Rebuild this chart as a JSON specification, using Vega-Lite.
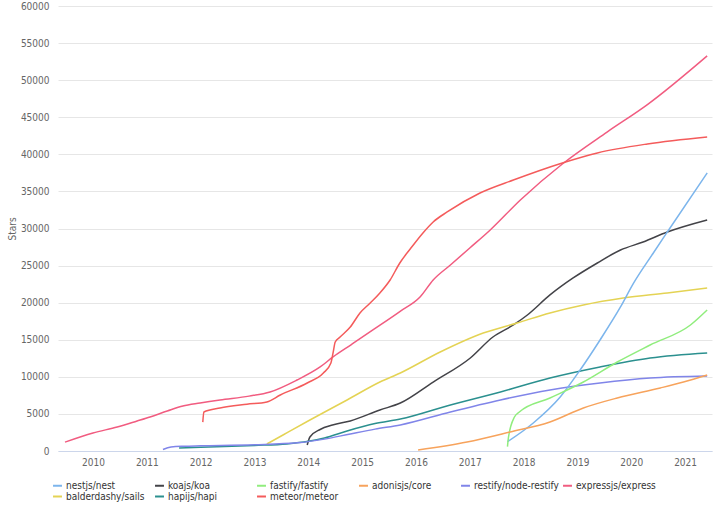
{
  "$schema": "https://vega.github.io/schema/vega-lite/v6.json",
  "width": 654,
  "height": 445,
  "autosize": "none",
  "padding": {"left": 58, "top": 6, "right": 8, "bottom": 65},
  "background": "white",
  "config": {
    "view": {"stroke": null},
    "font": "Liberation Sans Narrow, DejaVu Sans Condensed, Liberation Sans, sans-serif"
  },
  "datasets": {
    "stars": [
      {"repo": "expressjs/express", "t": 2009.48, "stars": 1200},
      {"repo": "expressjs/express", "t": 2010.0, "stars": 2430},
      {"repo": "expressjs/express", "t": 2010.45, "stars": 3240},
      {"repo": "expressjs/express", "t": 2010.82, "stars": 4050},
      {"repo": "expressjs/express", "t": 2011.06, "stars": 4590},
      {"repo": "expressjs/express", "t": 2011.38, "stars": 5390},
      {"repo": "expressjs/express", "t": 2011.67, "stars": 6070},
      {"repo": "expressjs/express", "t": 2011.99, "stars": 6470},
      {"repo": "expressjs/express", "t": 2012.36, "stars": 6880},
      {"repo": "expressjs/express", "t": 2012.9, "stars": 7400},
      {"repo": "expressjs/express", "t": 2013.29, "stars": 7960},
      {"repo": "expressjs/express", "t": 2013.79, "stars": 9570},
      {"repo": "expressjs/express", "t": 2014.22, "stars": 11330},
      {"repo": "expressjs/express", "t": 2014.46, "stars": 12680},
      {"repo": "expressjs/express", "t": 2014.8, "stars": 14350},
      {"repo": "expressjs/express", "t": 2015.2, "stars": 16320},
      {"repo": "expressjs/express", "t": 2015.7, "stars": 18800},
      {"repo": "expressjs/express", "t": 2016.08, "stars": 20800},
      {"repo": "expressjs/express", "t": 2016.32, "stars": 23060},
      {"repo": "expressjs/express", "t": 2016.64, "stars": 25080},
      {"repo": "expressjs/express", "t": 2017.0, "stars": 27370},
      {"repo": "expressjs/express", "t": 2017.38, "stars": 29800},
      {"repo": "expressjs/express", "t": 2017.94, "stars": 33850},
      {"repo": "expressjs/express", "t": 2018.72, "stars": 38700},
      {"repo": "expressjs/express", "t": 2019.55, "stars": 43000},
      {"repo": "expressjs/express", "t": 2020.3, "stars": 46700},
      {"repo": "expressjs/express", "t": 2021.41, "stars": 53270},

      {"repo": "meteor/meteor", "t": 2012.04, "stars": 3900},
      {"repo": "meteor/meteor", "t": 2012.06, "stars": 5260},
      {"repo": "meteor/meteor", "t": 2012.36, "stars": 5800},
      {"repo": "meteor/meteor", "t": 2012.86, "stars": 6300},
      {"repo": "meteor/meteor", "t": 2013.23, "stars": 6610},
      {"repo": "meteor/meteor", "t": 2013.48, "stars": 7550},
      {"repo": "meteor/meteor", "t": 2013.98, "stars": 9170},
      {"repo": "meteor/meteor", "t": 2014.28, "stars": 10520},
      {"repo": "meteor/meteor", "t": 2014.42, "stars": 11870},
      {"repo": "meteor/meteor", "t": 2014.46, "stars": 13220},
      {"repo": "meteor/meteor", "t": 2014.5, "stars": 14700},
      {"repo": "meteor/meteor", "t": 2014.59, "stars": 15370},
      {"repo": "meteor/meteor", "t": 2014.78, "stars": 16720},
      {"repo": "meteor/meteor", "t": 2014.96, "stars": 18610},
      {"repo": "meteor/meteor", "t": 2015.15, "stars": 19960},
      {"repo": "meteor/meteor", "t": 2015.33, "stars": 21310},
      {"repo": "meteor/meteor", "t": 2015.52, "stars": 23060},
      {"repo": "meteor/meteor", "t": 2015.7, "stars": 25350},
      {"repo": "meteor/meteor", "t": 2015.9, "stars": 27300},
      {"repo": "meteor/meteor", "t": 2016.13, "stars": 29400},
      {"repo": "meteor/meteor", "t": 2016.32, "stars": 30880},
      {"repo": "meteor/meteor", "t": 2016.58, "stars": 32230},
      {"repo": "meteor/meteor", "t": 2017.19, "stars": 34790},
      {"repo": "meteor/meteor", "t": 2017.81, "stars": 36540},
      {"repo": "meteor/meteor", "t": 2018.72, "stars": 38840},
      {"repo": "meteor/meteor", "t": 2019.37, "stars": 40190},
      {"repo": "meteor/meteor", "t": 2020.3, "stars": 41400},
      {"repo": "meteor/meteor", "t": 2021.41, "stars": 42340},

      {"repo": "koajs/koa", "t": 2013.98, "stars": 810},
      {"repo": "koajs/koa", "t": 2014.03, "stars": 1890},
      {"repo": "koajs/koa", "t": 2014.22, "stars": 2900},
      {"repo": "koajs/koa", "t": 2014.45, "stars": 3500},
      {"repo": "koajs/koa", "t": 2014.78, "stars": 4050},
      {"repo": "koajs/koa", "t": 2015.33, "stars": 5530},
      {"repo": "koajs/koa", "t": 2015.71, "stars": 6470},
      {"repo": "koajs/koa", "t": 2016.32, "stars": 9300},
      {"repo": "koajs/koa", "t": 2017.01, "stars": 12540},
      {"repo": "koajs/koa", "t": 2017.43, "stars": 15370},
      {"repo": "koajs/koa", "t": 2017.81, "stars": 16990},
      {"repo": "koajs/koa", "t": 2018.07, "stars": 18340},
      {"repo": "koajs/koa", "t": 2018.49, "stars": 21040},
      {"repo": "koajs/koa", "t": 2018.92, "stars": 23330},
      {"repo": "koajs/koa", "t": 2019.37, "stars": 25350},
      {"repo": "koajs/koa", "t": 2019.8, "stars": 27100},
      {"repo": "koajs/koa", "t": 2020.22, "stars": 28180},
      {"repo": "koajs/koa", "t": 2020.67, "stars": 29530},
      {"repo": "koajs/koa", "t": 2021.41, "stars": 31150},

      {"repo": "balderdashy/sails", "t": 2013.23, "stars": 940},
      {"repo": "balderdashy/sails", "t": 2013.53, "stars": 2160},
      {"repo": "balderdashy/sails", "t": 2014.03, "stars": 4180},
      {"repo": "balderdashy/sails", "t": 2014.72, "stars": 6880},
      {"repo": "balderdashy/sails", "t": 2015.33, "stars": 9300},
      {"repo": "balderdashy/sails", "t": 2015.71, "stars": 10520},
      {"repo": "balderdashy/sails", "t": 2016.45, "stars": 13350},
      {"repo": "balderdashy/sails", "t": 2017.25, "stars": 15910},
      {"repo": "balderdashy/sails", "t": 2017.88, "stars": 17260},
      {"repo": "balderdashy/sails", "t": 2018.49, "stars": 18610},
      {"repo": "balderdashy/sails", "t": 2019.11, "stars": 19690},
      {"repo": "balderdashy/sails", "t": 2019.85, "stars": 20630},
      {"repo": "balderdashy/sails", "t": 2020.67, "stars": 21310},
      {"repo": "balderdashy/sails", "t": 2021.41, "stars": 21980},

      {"repo": "hapijs/hapi", "t": 2011.6, "stars": 400},
      {"repo": "hapijs/hapi", "t": 2012.0, "stars": 500},
      {"repo": "hapijs/hapi", "t": 2013.0, "stars": 750},
      {"repo": "hapijs/hapi", "t": 2013.6, "stars": 950},
      {"repo": "hapijs/hapi", "t": 2014.0, "stars": 1300},
      {"repo": "hapijs/hapi", "t": 2014.3, "stars": 1750},
      {"repo": "hapijs/hapi", "t": 2014.72, "stars": 2700},
      {"repo": "hapijs/hapi", "t": 2015.24, "stars": 3700},
      {"repo": "hapijs/hapi", "t": 2015.71, "stars": 4300},
      {"repo": "hapijs/hapi", "t": 2016.64, "stars": 6200},
      {"repo": "hapijs/hapi", "t": 2017.57, "stars": 7960},
      {"repo": "hapijs/hapi", "t": 2018.49, "stars": 9840},
      {"repo": "hapijs/hapi", "t": 2019.42, "stars": 11330},
      {"repo": "hapijs/hapi", "t": 2020.35, "stars": 12540},
      {"repo": "hapijs/hapi", "t": 2021.41, "stars": 13220},

      {"repo": "restify/node-restify", "t": 2011.3, "stars": 200},
      {"repo": "restify/node-restify", "t": 2011.45, "stars": 540},
      {"repo": "restify/node-restify", "t": 2011.7, "stars": 650},
      {"repo": "restify/node-restify", "t": 2012.0, "stars": 700},
      {"repo": "restify/node-restify", "t": 2013.0, "stars": 850},
      {"repo": "restify/node-restify", "t": 2013.8, "stars": 1100},
      {"repo": "restify/node-restify", "t": 2014.3, "stars": 1600},
      {"repo": "restify/node-restify", "t": 2014.78, "stars": 2300},
      {"repo": "restify/node-restify", "t": 2015.24, "stars": 2950},
      {"repo": "restify/node-restify", "t": 2015.71, "stars": 3510},
      {"repo": "restify/node-restify", "t": 2016.64, "stars": 5260},
      {"repo": "restify/node-restify", "t": 2017.57, "stars": 6880},
      {"repo": "restify/node-restify", "t": 2018.49, "stars": 8230},
      {"repo": "restify/node-restify", "t": 2019.42, "stars": 9170},
      {"repo": "restify/node-restify", "t": 2020.35, "stars": 9840},
      {"repo": "restify/node-restify", "t": 2021.41, "stars": 10110},

      {"repo": "nestjs/nest", "t": 2017.7, "stars": 1250},
      {"repo": "nestjs/nest", "t": 2018.18, "stars": 3780},
      {"repo": "nestjs/nest", "t": 2018.68, "stars": 7280},
      {"repo": "nestjs/nest", "t": 2019.05, "stars": 10920},
      {"repo": "nestjs/nest", "t": 2019.42, "stars": 14970},
      {"repo": "nestjs/nest", "t": 2019.8, "stars": 19420},
      {"repo": "nestjs/nest", "t": 2020.04, "stars": 22600},
      {"repo": "nestjs/nest", "t": 2020.41, "stars": 26700},
      {"repo": "nestjs/nest", "t": 2020.67, "stars": 29530},
      {"repo": "nestjs/nest", "t": 2021.41, "stars": 37490},

      {"repo": "fastify/fastify", "t": 2017.7, "stars": 580},
      {"repo": "fastify/fastify", "t": 2017.72, "stars": 1890},
      {"repo": "fastify/fastify", "t": 2017.83, "stars": 4590},
      {"repo": "fastify/fastify", "t": 2017.92, "stars": 5260},
      {"repo": "fastify/fastify", "t": 2018.49, "stars": 7150},
      {"repo": "fastify/fastify", "t": 2019.11, "stars": 9300},
      {"repo": "fastify/fastify", "t": 2019.74, "stars": 12000},
      {"repo": "fastify/fastify", "t": 2020.35, "stars": 14290},
      {"repo": "fastify/fastify", "t": 2021.1, "stars": 16990},
      {"repo": "fastify/fastify", "t": 2021.41, "stars": 19010},

      {"repo": "adonisjs/core", "t": 2016.04, "stars": 130},
      {"repo": "adonisjs/core", "t": 2016.95, "stars": 1210},
      {"repo": "adonisjs/core", "t": 2017.75, "stars": 2560},
      {"repo": "adonisjs/core", "t": 2018.49, "stars": 3910},
      {"repo": "adonisjs/core", "t": 2019.11, "stars": 5800},
      {"repo": "adonisjs/core", "t": 2019.74, "stars": 7150},
      {"repo": "adonisjs/core", "t": 2020.54, "stars": 8500},
      {"repo": "adonisjs/core", "t": 2020.97, "stars": 9300},
      {"repo": "adonisjs/core", "t": 2021.41, "stars": 10250}
    ]
  },
  "data": {"name": "stars"},
  "mark": {"type": "line", "strokeWidth": 1.5, "interpolate": "monotone"},
  "encoding": {
    "x": {
      "field": "t",
      "type": "quantitative",
      "scale": {"domain": [2009.35, 2021.5], "nice": false, "zero": false},
      "axis": {
        "title": null,
        "values": [2010, 2011, 2012, 2013, 2014, 2015, 2016, 2017, 2018, 2019, 2020, 2021],
        "format": "d",
        "grid": false,
        "ticks": false,
        "domainColor": "#ccd6eb",
        "labelColor": "#666666",
        "labelFontSize": 10,
        "labelPadding": 6
      }
    },
    "y": {
      "field": "stars",
      "type": "quantitative",
      "scale": {"domain": [0, 60000], "nice": false},
      "axis": {
        "title": "Stars",
        "titleColor": "#666666",
        "titleFontSize": 10,
        "titleFontWeight": "normal",
        "titlePadding": 3,
        "values": [0, 5000, 10000, 15000, 20000, 25000, 30000, 35000, 40000, 45000, 50000, 55000, 60000],
        "format": "d",
        "domain": false,
        "ticks": false,
        "gridColor": "#e6e6e6",
        "labelColor": "#666666",
        "labelFontSize": 10,
        "labelPadding": 9
      }
    },
    "color": {
      "field": "repo",
      "type": "nominal",
      "scale": {
        "domain": ["nestjs/nest", "koajs/koa", "fastify/fastify", "adonisjs/core", "restify/node-restify", "expressjs/express", "balderdashy/sails", "hapijs/hapi", "meteor/meteor"],
        "range": ["#7cb5ec", "#434348", "#90ed7d", "#f7a35c", "#8085e9", "#f15c80", "#e4d354", "#2b908f", "#f45b5b"]
      },
      "legend": {
        "title": null,
        "orient": "none",
        "legendX": -6,
        "legendY": 474,
        "direction": "horizontal",
        "columns": 6,
        "gridAlign": "all",
        "columnPadding": 0,
        "rowPadding": 0,
        "symbolType": "stroke",
        "symbolStrokeWidth": 2,
        "symbolSize": 80,
        "labelFontSize": 10,
        "labelColor": "#333333",
        "labelOffset": 3
      }
    }
  }
}
